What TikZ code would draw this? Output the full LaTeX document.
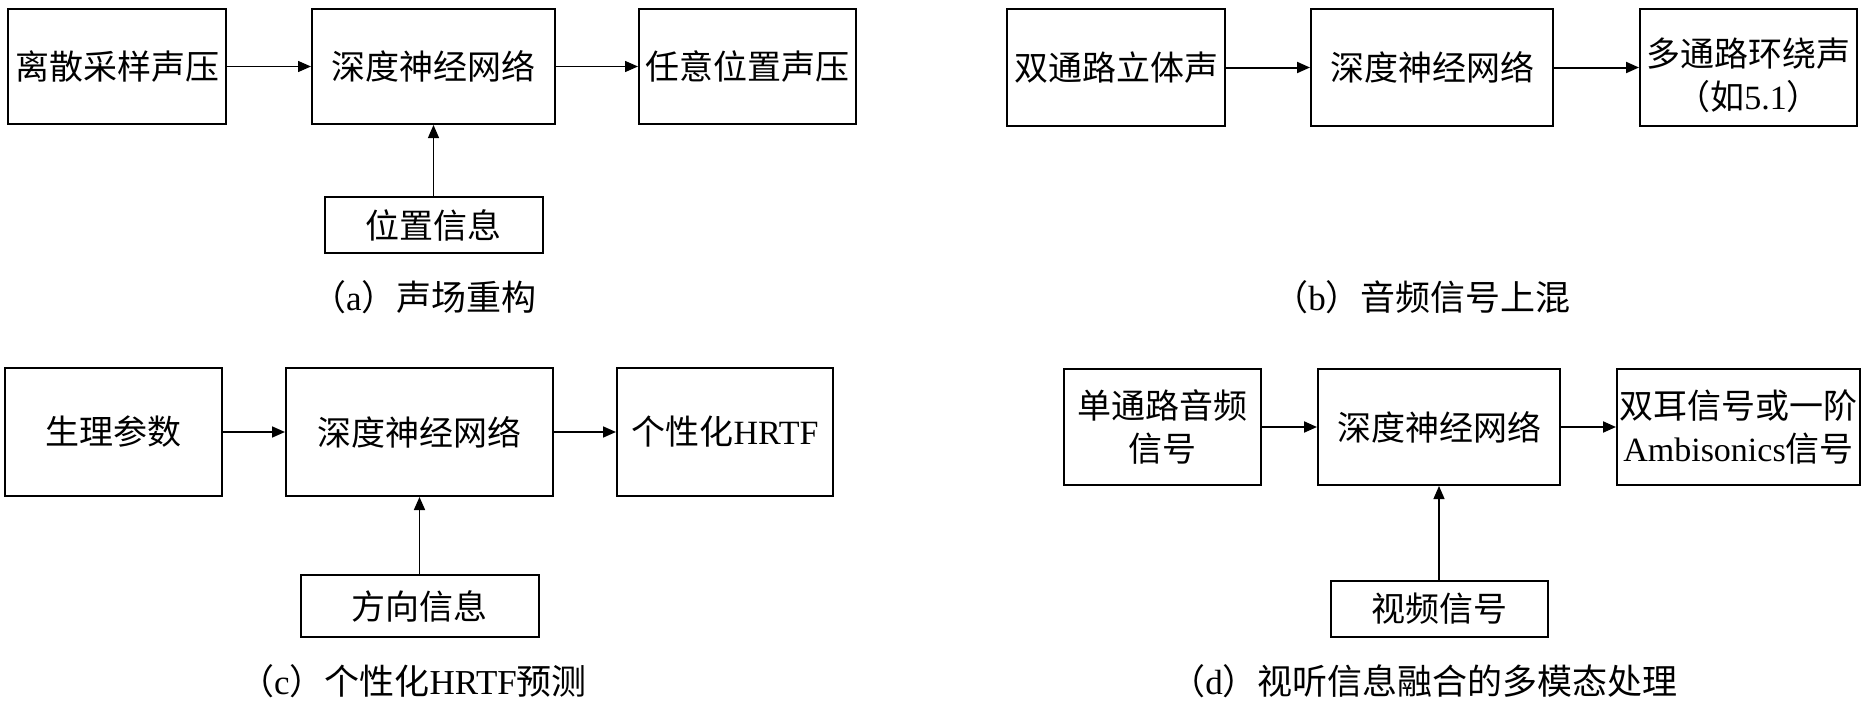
\documentclass[tikz,border=0pt]{standalone}
\usepackage{fontspec}
\setmainfont{Noto Sans CJK SC}
\newfontfamily\latin{Liberation Serif}
\usepackage{tikz}
\usetikzlibrary{arrows.meta}

\begin{document}
\begin{tikzpicture}[x=1pt,y=-1pt,
    blk/.style={draw,line width=2pt,inner sep=2pt,align=center,
                font=\fontsize{34}{43}\selectfont},
    flow/.style={-{Triangle[length=13pt,width=11pt]},line width=1.6pt},
    subcap/.style={inner sep=0pt,font=\fontsize{35}{40}\selectfont}]
  \useasboundingbox (0,0) rectangle (1868,707);

  \node[blk,minimum width=218pt,minimum height=115pt] (rawP) at (117,66.5) {离散采样声压};
  \node[blk,minimum width=243pt,minimum height=115pt] (dnnA) at (433.5,66.5) {深度神经网络};
  \node[blk,minimum width=217pt,minimum height=115pt] (anyP) at (747.5,66.5) {任意位置声压};
  \node[blk,minimum width=218pt,minimum height=56pt] (posA) at (433.5,225) {位置信息};
  \node[subcap] (capA) at (424,297) {（{\latin a}）声场重构};

  \draw[flow,line width=1.4pt] (rawP) -- (dnnA);
  \draw[flow,line width=1.4pt] (dnnA) -- (anyP);
  \draw[flow,line width=1.2pt] (posA) -- (dnnA);

  \node[blk,minimum width=218pt,minimum height=117pt] (stereo) at (1116,67.5) {双通路立体声};
  \node[blk,minimum width=242pt,minimum height=117pt] (dnnB) at (1432,67.5) {深度神经网络};
  \node[blk,minimum width=217pt,minimum height=117pt] (surround) at (1748.5,67.5)
    {\rule{0pt}{44pt}多通路环绕声\\（如{\latin 5.1}）};
  \node[subcap] (capB) at (1422,297) {（{\latin b}）音频信号上混};

  \draw[flow,line width=2pt] (stereo) -- (dnnB);
  \draw[flow,line width=2pt] (dnnB) -- (surround);

  \node[blk,minimum width=217pt,minimum height=128pt] (physio) at (113.5,432) {生理参数};
  \node[blk,minimum width=267pt,minimum height=128pt] (dnnC) at (419.5,432) {深度神经网络};
  \node[blk,minimum width=216pt,minimum height=128pt] (hrtf) at (725,432) {个性化{\latin HRTF}};
  \node[blk,minimum width=238pt,minimum height=62pt] (dirC) at (419.5,606) {方向信息};
  \node[subcap] (capC) at (413,681) {（{\latin c}）个性化{\latin HRTF}预测};

  \draw[flow,line width=1.7pt] (physio) -- (dnnC);
  \draw[flow,line width=1.7pt] (dnnC) -- (hrtf);
  \draw[flow,line width=1.7pt] (dirC) -- (dnnC);

  \node[blk,minimum width=197pt,minimum height=116pt] (mono) at (1162.5,427)
    {单通路音频\\信号};
  \node[blk,minimum width=242pt,minimum height=116pt] (dnnD) at (1439,427) {深度神经网络};
  \node[blk,minimum width=243pt,minimum height=116pt,inner sep=0pt] (binaural) at (1738.5,427)
    {双耳信号或一阶\\{\latin Ambisonics}信号};
  \node[blk,minimum width=217pt,minimum height=56pt] (video) at (1439,609) {视频信号};
  \node[subcap] (capD) at (1424,681) {（{\latin d}）视听信息融合的多模态处理};

  \draw[flow,line width=2pt] (mono) -- (dnnD);
  \draw[flow,line width=2pt] (dnnD) -- (binaural);
  \draw[flow,line width=1.2pt] (video) -- (dnnD);
\end{tikzpicture}
\end{document}
